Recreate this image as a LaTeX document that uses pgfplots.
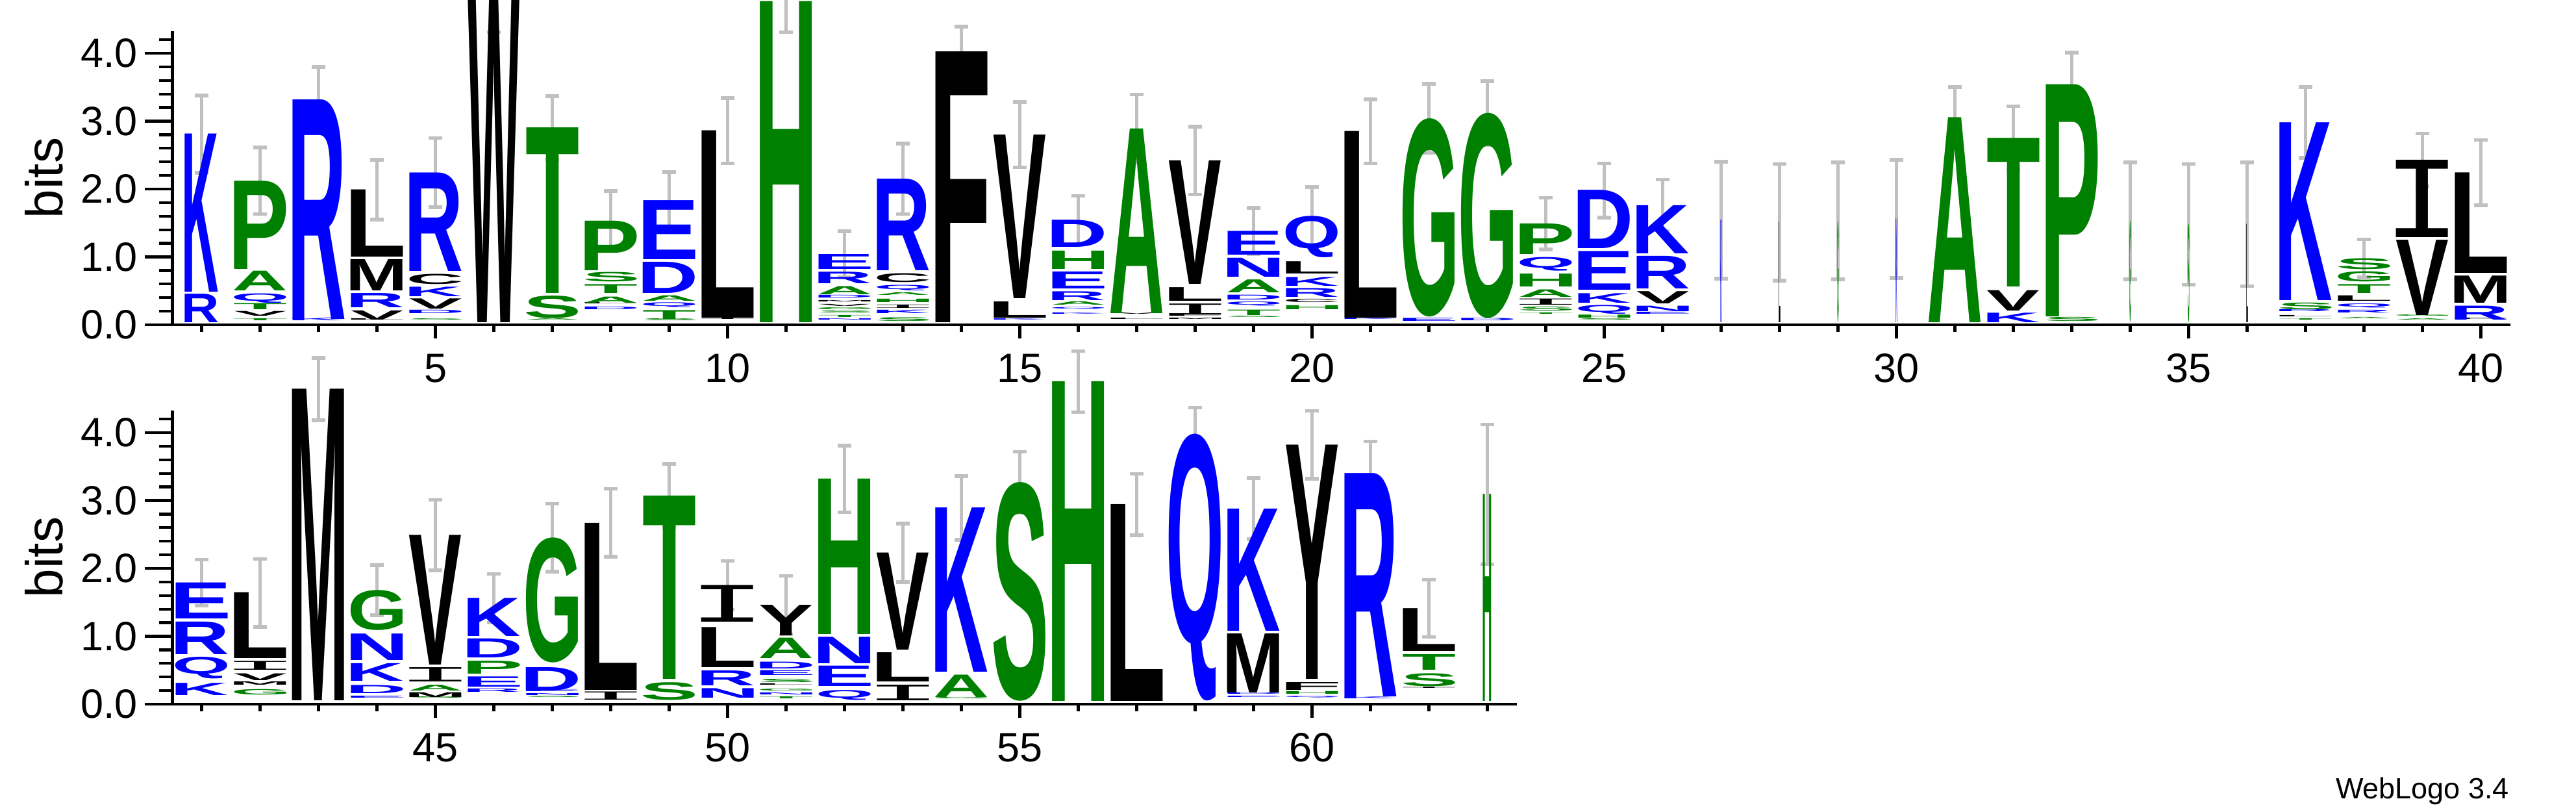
\documentclass[border=0pt]{standalone}
\usepackage{fontspec}
\setmainfont{Liberation Sans}
\newfontfamily\monofnt{Liberation Mono}
\usepackage{graphicx}
\usepackage{pgfplots}
\pgfplotsset{compat=1.18}
\usetikzlibrary{calc}

\definecolor{hphil}{RGB}{0,0,255}
\definecolor{hneut}{RGB}{0,128,0}
\definecolor{hphob}{RGB}{0,0,0}
\definecolor{ebar}{RGB}{192,192,192}
% hydrophobicity colour scheme, one colour per residue
\colorlet{resR}{hphil}\colorlet{resK}{hphil}\colorlet{resD}{hphil}
\colorlet{resE}{hphil}\colorlet{resN}{hphil}\colorlet{resQ}{hphil}
\colorlet{resS}{hneut}\colorlet{resG}{hneut}\colorlet{resH}{hneut}
\colorlet{resT}{hneut}\colorlet{resA}{hneut}\colorlet{resP}{hneut}
\colorlet{resY}{hphob}\colorlet{resV}{hphob}\colorlet{resM}{hphob}
\colorlet{resC}{hphob}\colorlet{resL}{hphob}\colorlet{resF}{hphob}
\colorlet{resI}{hphob}\colorlet{resW}{hphob}

% one bit in pt, and the ink width of a full column
\newlength{\bitu}\setlength{\bitu}{10.449pt}
\newlength{\letw}\setlength{\letw}{8pt}
\def\letI{I}
% glyph without side bearings
\newcommand{\inkbox}[1]{%
  \def\tmpL{#1}%
  \ifx\tmpL\letI\monofnt\else\bfseries\fi
  \kern-\XeTeXglyphbounds1 \XeTeXcharglyph`#1\relax
  #1%
  \kern-\XeTeXglyphbounds3 \XeTeXcharglyph`#1\relax}
\newcommand{\glyph}[3]{\edef\curL{#1}%
  \resizebox*{#3\letw}{#2\bitu}{\color{res\curL}\expandafter\inkbox\expandafter{\curL}}}

\pgfplotsset{
  logo/.style={
    scale only axis, height=45.16pt, ymin=0, ymax=4.3219,
    axis x line*=bottom, axis y line*=left,
    axis line style={line width=0.43pt,-},
    clip=false, tick align=outside,
    major tick length=4.3pt, minor tick length=2.1pt,
    every tick/.style={black, line width=0.43pt},
    xtick style={/pgfplots/major tick length=2.1pt,/pgfplots/minor tick length=1.1pt},
    ytick={0,1,2,3,4}, minor ytick={0,0.2,...,4.2},
    /pgf/number format/assume math mode=true,
    yticklabel style={font=\fontsize{6.3}{6.3}\selectfont, anchor=east,
      inner sep=0pt, xshift=-0.9pt,
      /pgf/number format/fixed, /pgf/number format/fixed zerofill,
      /pgf/number format/precision=1},
    xticklabel style={font=\fontsize{6.3}{6.3}\selectfont, anchor=north,
      inner sep=0pt},
    ylabel={bits},
    ylabel style={font=\fontsize{8}{8}\selectfont,
      at={($(axis description cs:0,0.5)+(-19.8pt,0pt)$)}, anchor=center},
  },
  letters/.style={draw=none, mark=none,
    point meta=explicit symbolic,
    visualization depends on={\thisrow{h}\as\lH},
    visualization depends on={\thisrow{w}\as\lW},
    nodes near coords={\glyph{\pgfplotspointmeta}{\lH}{\lW}},
    every node near coord/.style={anchor=south, inner sep=0pt, outer sep=0pt},
  },
  ebars/.style={draw=none, mark=none,
    error bars/.cd, y dir=both, y explicit,
    error bar style={draw=ebar, line width=0.5pt},
    error mark options={draw=ebar, rotate=90, mark size=1.05pt, line width=0.55pt},
  },
}

\begin{document}
\begin{tikzpicture}
\path[use as bounding box] (0pt,0pt) rectangle (396.7pt,125pt);

\begin{axis}[logo, at={(26.56pt,75pt)}, anchor=south west,
    width=360pt, xmin=0.5, xmax=40.5,
    xtick={5,10,...,40}, minor xtick={1,...,40}]
\addplot[letters] table[x=x, y=y, meta=l] {
x y h l w
1 0.03 0.42 R 0.64
1 0.48 2.33 K 0.64
2 0.03 0.03 T 1
2 0.12 0.07 V 1
2 0.22 0.09 T 1
2 0.32 0.14 Q 1
2 0.50 0.29 A 1
2 0.82 1.30 P 1
3 0.03 0.04 K 1
3 0.085 3.235 R 1
4 0.03 0.02 L 1
4 0.07 0.135 V 1
4 0.25 0.21 R 1
4 0.50 0.46 M 1
4 1.00 0.99 L 1
5 0.03 0.02 S 1
5 0.14 0.05 D 1
5 0.23 0.15 V 1
5 0.42 0.14 K 1
5 0.60 0.15 C 1
5 0.79 1.45 R 1
6 0.03 4.85 W 1
7 0.03 0.02 A 1
7 0.10 0.33 S 1
7 0.46 2.44 T 1
8 0.20 0.04 D 1
8 0.27 0.02 L 1
8 0.32 0.09 A 1
8 0.46 0.13 T 1
8 0.63 0.14 S 1
8 0.80 0.73 P 1
9 0.03 0.03 S 1
9 0.08 0.13 T 1
9 0.24 0.07 Q 1
9 0.34 0.08 A 1
9 0.46 0.46 D 1
9 0.96 0.87 E 1
10 0.04 0.02 I 1
10 0.10 2.76 L 1
11 0.03 4.73 H 1
12 0.03 0.02 N 1
12 0.08 0.03 T 1
12 0.14 0.03 S 1
12 0.19 0.03 G 1
12 0.24 0.03 V 1
12 0.30 0.02 M 1
12 0.37 0.04 D 1
12 0.44 0.12 A 1
12 0.61 0.17 R 1
12 0.82 0.22 E 1
13 0.03 0.055 S 1
13 0.14 0.05 K 1
13 0.22 0.05 I 1
13 0.31 0.05 H 1
13 0.41 0.04 A 1
13 0.50 0.08 Q 1
13 0.62 0.13 C 1
13 0.80 1.35 R 1
14 0.03 3.99 F 1
15 0.03 0.02 K 1
15 0.10 0.24 L 1
15 0.39 2.41 V 1
16 0.12 0.02 K 1
16 0.19 0.03 Q 1
16 0.27 0.05 A 1
16 0.36 0.13 R 1
16 0.53 0.25 E 1
16 0.82 0.27 H 1
16 1.14 0.40 D 1
17 0.04 0.02 L 1
17 0.12 0.02 V 1
17 0.17 2.72 A 1
18 0.04 0.02 M 1
18 0.09 0.02 F 1
18 0.15 0.16 I 1
18 0.35 0.20 L 1
18 0.60 1.82 V 1
19 0.07 0.02 S 1
19 0.13 0.08 T 1
19 0.26 0.06 Q 1
19 0.36 0.07 D 1
19 0.47 0.19 A 1
19 0.70 0.28 N 1
19 1.03 0.35 E 1
20 0.21 0.06 H 1
20 0.31 0.05 C 1
20 0.41 0.13 R 1
20 0.57 0.13 K 1
20 0.75 0.18 L 1
20 0.99 0.61 Q 1
21 0.04 0.02 K 1
21 0.10 2.75 L 1
22 0.03 0.045 E 1
22 0.12 2.92 G 1
23 0.035 0.035 D 1
23 0.10 3.02 G 1
24 0.12 0.02 T 1
24 0.19 0.06 S 1
24 0.29 0.09 I 1
24 0.41 0.11 A 1
24 0.56 0.19 H 1
24 0.79 0.20 Q 1
24 1.04 0.45 P 1
25 0.03 0.02 S 1
25 0.075 0.045 H 1
25 0.16 0.13 Q 1
25 0.32 0.14 K 1
25 0.51 0.57 E 1
25 1.12 0.86 D 1
26 0.12 0.03 E 1
26 0.19 0.08 N 1
26 0.31 0.18 V 1
26 0.53 0.48 R 1
26 1.05 0.71 K 1
27 0.03 1.51 K 0.03
28 0.03 1.48 L 0.03
29 0.03 1.50 G 0.03
30 0.03 1.53 K 0.03
31 0.03 3.02 A 1
32 0.03 0.14 K 1
32 0.21 0.30 V 1
32 0.56 2.19 T 1
33 0.03 0.06 S 1
33 0.12 3.42 P 1
34 0.03 1.50 G 0.03
35 0.03 1.45 S 0.03
36 0.03 1.45 L 0.03
37 0.03 0.02 T 1
37 0.08 0.02 L 1
37 0.16 0.03 R 1
37 0.22 0.10 S 1
37 0.36 2.62 K 1
38 0.05 0.02 A 1
38 0.15 0.04 R 1
38 0.23 0.06 Q 1
38 0.34 0.08 L 1
38 0.46 0.13 T 1
38 0.63 0.15 G 1
38 0.82 0.16 S 1
39 0.03 0.02 A 1
39 0.09 0.02 G 1
39 0.14 1.11 V 1
39 1.29 1.14 I 1
40 0.04 0.02 F 1
40 0.075 0.205 R 1
40 0.32 0.40 M 1
40 0.76 1.48 L 1
};
\addplot[ebars] table[x=x, y=y, y error=e] {
x y e
1 2.81 0.57
2 2.12 0.49
3 3.32 0.48
4 1.99 0.44
5 2.24 0.51
6 4.75 0.44
7 2.90 0.47
8 1.53 0.44
9 1.83 0.42
10 2.86 0.48
11 4.76 0.45
12 1.04 0.34
13 2.15 0.52
14 4.02 0.37
15 2.80 0.48
16 1.54 0.36
17 2.89 0.50
18 2.42 0.50
19 1.38 0.34
20 1.60 0.43
21 2.85 0.47
22 3.04 0.51
23 3.12 0.47
24 1.49 0.38
25 1.98 0.40
26 1.76 0.38
27 1.54 0.86
28 1.51 0.86
29 1.53 0.86
30 1.56 0.87
31 3.05 0.45
32 2.75 0.47
33 3.54 0.47
34 1.53 0.86
35 1.48 0.89
36 1.48 0.91
37 2.98 0.52
38 0.98 0.28
39 2.43 0.39
40 2.24 0.48
};
\end{axis}

\begin{axis}[logo, at={(26.56pt,16.6pt)}, anchor=south west,
    width=207pt, xmin=40.5, xmax=63.5,
    xtick={45,50,55,60}, minor xtick={41,...,63}]
\addplot[letters] table[x=x, y=y, meta=l] {
x y h l w
41 0.13 0.18 K 1
41 0.37 0.32 Q 1
41 0.73 0.48 R 1
41 1.26 0.53 E 1
42 0.13 0.08 G 1
42 0.26 0.05 M 1
42 0.35 0.10 V 1
42 0.50 0.13 I 1
42 0.67 0.97 L 1
43 0.05 4.59 M 1
44 0.06 0.03 E 1
44 0.16 0.12 D 1
44 0.34 0.26 K 1
44 0.65 0.39 N 1
44 1.09 0.59 G 1
45 0.05 0.02 S 1
45 0.09 0.07 M 1
45 0.195 0.085 A 1
45 0.33 0.21 I 1
45 0.58 1.91 V 1
46 0.15 0.05 R 1
46 0.25 0.15 E 1
46 0.44 0.19 P 1
46 0.68 0.28 D 1
46 1.00 0.56 K 1
47 0.06 0.02 S 1
47 0.10 0.03 N 1
47 0.15 0.03 E 1
47 0.195 0.345 D 1
47 0.61 1.84 G 1
48 0.06 0.12 I 1
48 0.21 2.46 L 1
49 0.06 0.26 S 1
49 0.37 2.70 T 1
50 0.09 0.14 N 1
50 0.27 0.22 R 1
50 0.54 0.59 L 1
50 1.21 0.54 I 1
51 0.05 0.03 T 1
51 0.11 0.03 N 1
51 0.16 0.03 G 1
51 0.24 0.02 L 1
51 0.30 0.05 S 1
51 0.41 0.07 E 1
51 0.52 0.10 D 1
51 0.67 0.30 A 1
51 1.01 0.45 Y 1
52 0.06 0.145 Q 1
52 0.26 0.30 E 1
52 0.60 0.39 N 1
52 1.03 2.29 H 1
53 0.05 0.23 I 1
53 0.33 0.43 L 1
53 0.80 1.43 V 1
54 0.04 0.02 G 1
54 0.10 0.33 A 1
54 0.47 2.42 K 1
55 0.05 3.22 S 1
56 0.04 4.71 H 1
57 0.04 2.90 L 1
58 0.05 3.93 Q 1
59 0.06 0.02 E 1
59 0.11 0.02 D 1
59 0.17 0.87 M 1
59 1.08 1.80 K 1
60 0.06 0.025 Q 1
60 0.12 0.04 H 1
60 0.205 0.115 F 1
60 0.37 3.45 Y 1
61 0.05 0.03 K 1
61 0.11 3.29 R 1
62 0.20 0.02 I 1
62 0.26 0.19 S 1
62 0.50 0.23 T 1
62 0.78 0.63 L 1
63 0.04 3.05 H 0.16
};
\addplot[ebars] table[x=x, y=y, y error=e] {
x y e
41 1.79 0.34
42 1.64 0.50
43 4.64 0.46
44 1.68 0.37
45 2.49 0.52
46 1.56 0.36
47 2.45 0.50
48 2.67 0.50
49 3.07 0.47
50 1.75 0.36
51 1.46 0.43
52 3.32 0.49
53 2.23 0.43
54 2.89 0.47
55 3.27 0.45
56 4.75 0.45
57 2.94 0.45
58 3.98 0.39
59 2.88 0.45
60 3.82 0.50
61 3.40 0.47
62 1.41 0.42
63 3.09 1.03
};
\end{axis}

\node[anchor=base east, inner sep=0pt, font=\fontsize{4.5}{4.5}\selectfont]
  at (386.6pt,2pt) {WebLogo 3.4};
\end{tikzpicture}
\end{document}
